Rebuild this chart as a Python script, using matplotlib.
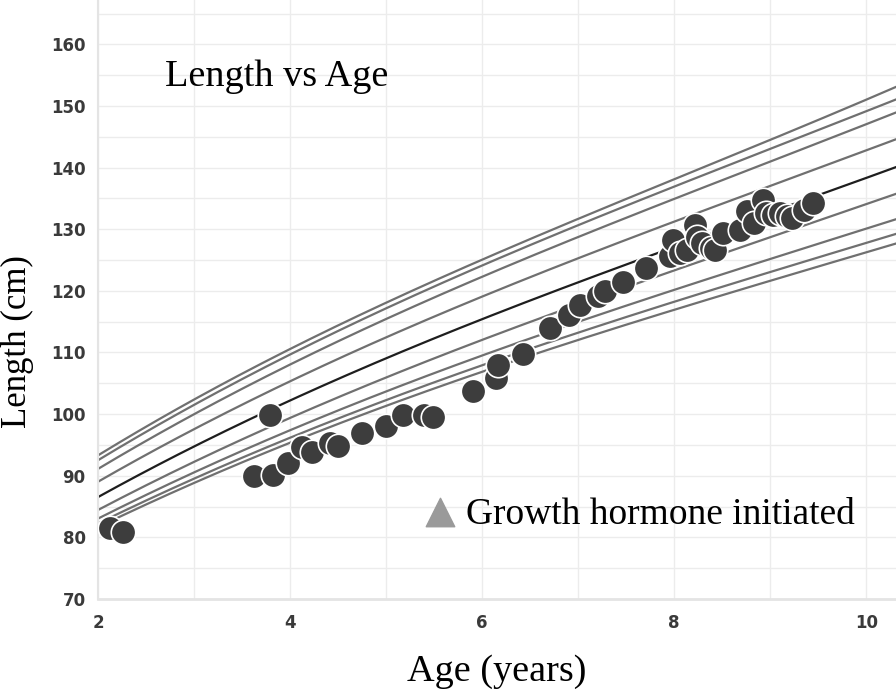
import matplotlib
matplotlib.use("Agg")
import matplotlib.pyplot as plt
import numpy as np

# percentile curves (cm) at these ages
ages_curve = [2, 3, 4, 5, 6, 7, 8, 9, 10, 10.31]
p97 = [93.1, 102.7, 110.7, 117.9, 124.8, 131.7, 138.2, 144.7, 151.0, 153.0]
p95 = [92.3, 101.9, 109.7, 117.0, 123.9, 130.7, 137.0, 143.2, 149.1, 151.0]
p90 = [90.9, 100.4, 108.0, 115.3, 122.1, 128.8, 135.0, 141.1, 147.0, 148.9]
p75 = [88.8, 98.0, 105.3, 112.3, 118.9, 125.3, 131.3, 137.2, 142.8, 144.5]
p50 = [86.3, 95.2, 102.2, 108.9, 115.2, 121.4, 127.2, 132.9, 138.3, 140.0]
p25 = [84.2, 92.7, 99.4, 105.8, 111.8, 117.8, 123.4, 128.9, 134.1, 135.6]
p10 = [82.8, 91.0, 97.4, 103.5, 109.3, 115.0, 120.2, 125.4, 130.1, 131.5]
p5 = [82.0, 90.0, 96.2, 102.1, 107.7, 113.2, 118.3, 123.3, 127.8, 129.1]
p3 = [81.4, 89.3, 95.4, 101.2, 106.6, 112.0, 117.0, 121.9, 126.3, 127.5]

# measurements
age_pts = [2.13, 2.26, 3.62, 3.79, 3.82, 3.98, 4.12, 4.23, 4.42, 4.50,
           4.75, 5.00, 5.18, 5.39, 5.49, 5.91, 6.14, 6.17, 6.43, 6.71,
           6.90, 7.02, 7.21, 7.28, 7.47, 7.71, 7.96, 7.99, 8.06, 8.13,
           8.22, 8.24, 8.29, 8.38, 8.43, 8.51, 8.69, 8.76, 8.83, 8.93,
           8.96, 9.03, 9.10, 9.17, 9.23, 9.35, 9.45]
len_pts = [81.5, 80.8, 90.0, 99.9, 90.2, 92.0, 94.6, 93.8, 95.3, 94.9,
           97.0, 98.1, 99.9, 99.9, 99.5, 103.7, 105.8, 108.0, 109.8, 113.9,
           116.1, 117.7, 119.1, 119.9, 121.5, 123.7, 125.6, 128.3, 126.1, 126.7,
           130.7, 128.8, 127.7, 126.9, 126.7, 129.4, 129.9, 132.9, 131.0, 134.8,
           132.6, 132.3, 132.6, 132.1, 131.8, 133.1, 134.2]


def smooth(xs, ys):
    # smooth drawing path through the read values
    c = np.polyfit(xs, ys, 3)
    xx = np.linspace(xs[0], xs[-1], 200)
    return xx, np.polyval(c, xx)


fig = plt.figure(figsize=(8.96, 6.94), dpi=100)
ax = fig.add_axes([98 / 896, 95 / 694, 798 / 896, 599 / 694])

ax.set_xlim(2, 10.31)
ax.set_ylim(70, 167.2)
ax.set_xticks([2, 4, 6, 8, 10])
ax.set_xticks([3, 5, 7, 9], minor=True)
ax.set_yticks(range(70, 161, 10))
ax.set_yticks(range(75, 166, 10), minor=True)
ax.grid(True, which="both", color="#ececec", lw=1)
ax.set_axisbelow(True)

for s in ["top", "right"]:
    ax.spines[s].set_visible(False)
ax.spines["left"].set_color("#e4e4e4")
ax.spines["left"].set_linewidth(1.5)
ax.spines["bottom"].set_color("#e4e4e4")
ax.spines["bottom"].set_linewidth(2)
ax.tick_params(axis="y", which="both", length=0, pad=9)
ax.tick_params(axis="x", which="both", length=0, pad=11)
for lab in ax.get_xticklabels() + ax.get_yticklabels():
    lab.set_fontfamily("DejaVu Sans")
    lab.set_fontweight("bold")
    lab.set_fontsize(12)
    lab.set_color("#3a3a3a")

for curve in [p97, p95, p90, p75, p25, p10, p5, p3]:
    ax.plot(*smooth(ages_curve, curve), color="#707070", lw=1.6, zorder=2)
ax.plot(*smooth(ages_curve, p50), color="#1e1e1e", lw=1.6, zorder=2)

ax.scatter(age_pts, len_pts, s=310, color="#3d3d3d", edgecolors="white",
           linewidths=1.2, zorder=3)

serif = "Liberation Serif"
ax.text(2.70, 154.7, "Length vs Age", family=serif, fontsize=27.5, va="center")
ax.scatter([5.56], [84.1], marker="^", s=420, color="#9a9a9a", zorder=3)
ax.text(5.83, 83.7, "Growth hormone initiated", family=serif, fontsize=27,
        va="center")

ax.set_xlabel("Age (years)", family=serif, fontsize=27.5, labelpad=16)
ax.set_ylabel("Length (cm)", family=serif, fontsize=25)
ax.yaxis.label.set_va("center")
ax.yaxis.set_label_coords(-0.1015, 0.43)

fig.savefig("out.png", dpi=100)
